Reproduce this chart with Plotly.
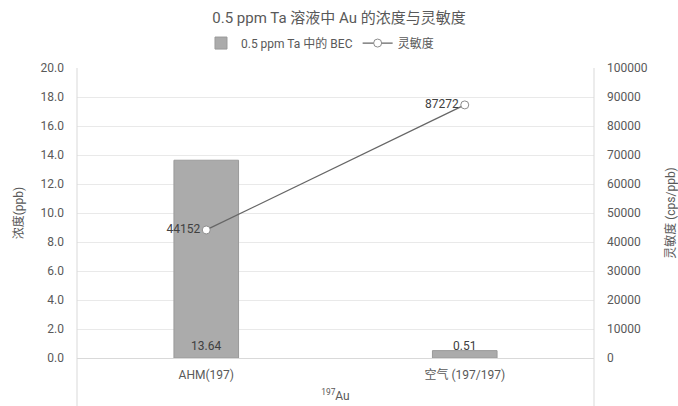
import plotly.graph_objects as go

categories = ["AHM(197)", "空气 (197/197)"]
bec_values = [13.64, 0.51]
sens_values = [44152, 87272]
bec_labels = ["13.64", "0.51"]
sens_labels = ["44152", "87272"]

FONT = "Roboto, 'Noto Sans CJK SC', sans-serif"
TXT = "#595959"

fig = go.Figure()
fig.add_trace(go.Bar(
    x=categories, y=bec_values, name="0.5 ppm Ta 中的 BEC",
    marker=dict(color="#ababab", line=dict(color="#9a9a9a", width=1)),
    width=0.25, yaxis="y",
))
fig.add_trace(go.Scatter(
    x=categories, y=sens_values, name="灵敏度", yaxis="y2",
    mode="lines+markers+text",
    line=dict(color="#666666", width=1.3),
    marker=dict(symbol="circle", size=8, color="white", line=dict(color="#8c8c8c", width=1)),
    text=sens_labels, textposition="middle left",
    textfont=dict(size=12, color="#404040", family=FONT),
))

for c, v, t in zip(categories, bec_values, bec_labels):
    fig.add_annotation(x=c, y=0, xref="x", yref="y", text=t, showarrow=False,
                       yanchor="bottom", yshift=3,
                       font=dict(size=12, color="#404040", family=FONT))

for xp in [0, 1]:
    fig.add_shape(type="line", xref="paper", yref="paper", x0=xp, x1=xp, y0=-0.17, y1=1,
                  line=dict(color="#d9d9d9", width=1))

fig.update_layout(
    width=678, height=406,
    margin=dict(l=77, r=84, t=68, b=48),
    paper_bgcolor="white", plot_bgcolor="white",
    font=dict(family=FONT, size=12, color=TXT),
    title=dict(text="0.5 ppm Ta 溶液中 Au 的浓度与灵敏度", x=0.5, xanchor="center",
               y=1 - 18 / 406, yanchor="middle", font=dict(size=15, color=TXT)),
    legend=dict(orientation="h", x=0.47, xanchor="center", y=1.086, yanchor="middle",
                font=dict(size=12, color=TXT), bgcolor="rgba(0,0,0,0)",
                itemwidth=30),
    showlegend=True,
    bargap=0.75,
    xaxis=dict(
        automargin=False,
        showgrid=False, showline=True, linecolor="#d9d9d9", linewidth=1,
        ticks="", tickfont=dict(size=12, color=TXT), ticklabelstandoff=6,
        title=dict(text="<sup>197</sup>Au", font=dict(size=12, color=TXT), standoff=10),
    ),
    yaxis=dict(
        automargin=False,
        range=[0, 20], dtick=2, tickformat=".1f",
        showgrid=True, gridcolor="#e9e9e9", gridwidth=1,
        showline=False, zeroline=False,
        tickfont=dict(size=12, color=TXT), ticks="", ticklen=0, ticklabelstandoff=12,
        title=dict(text="浓度(ppb)", font=dict(size=12, color=TXT), standoff=14),
    ),
    yaxis2=dict(
        automargin=False,
        range=[0, 100000], dtick=10000, tickformat="d",
        overlaying="y", side="right", showgrid=False, showline=False, zeroline=False,
        tickfont=dict(size=12, color=TXT), ticklabelstandoff=12,
        title=dict(text="灵敏度 (cps/ppb)", font=dict(size=12, color=TXT), standoff=20),
    ),
)

fig.write_html("out.html")
